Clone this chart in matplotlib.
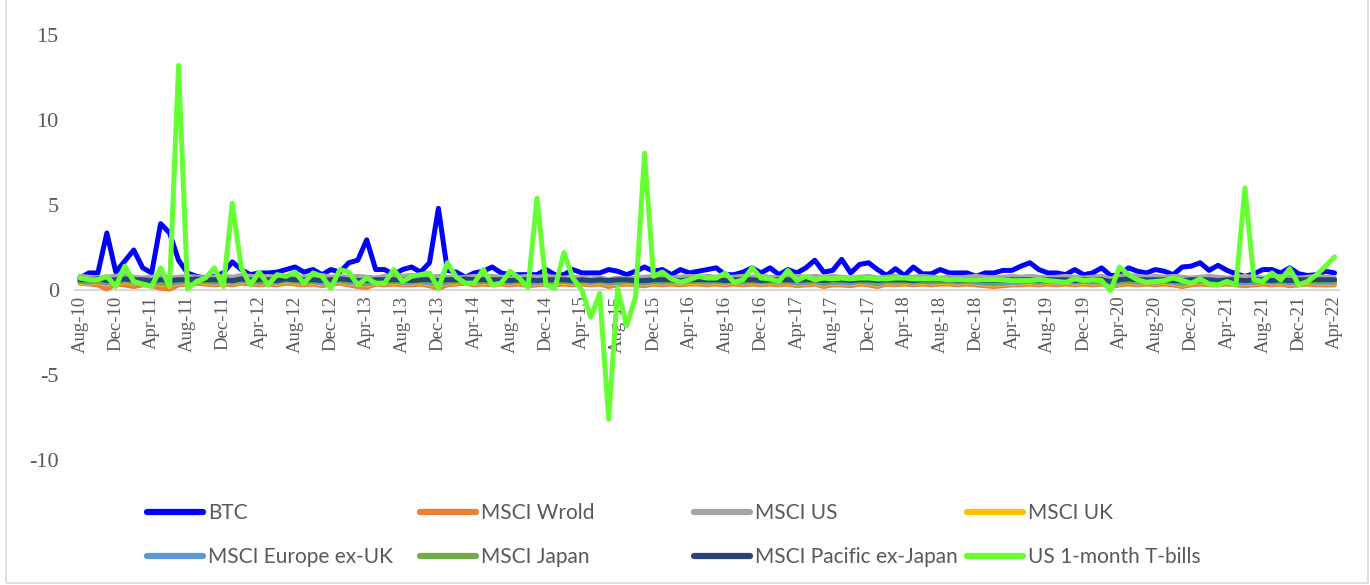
import matplotlib
matplotlib.use("Agg")
import matplotlib.pyplot as plt
import numpy as np
import pandas as pd
from matplotlib.patches import Rectangle

months = pd.date_range("2010-08-01", periods=141, freq="MS").strftime("%b-%y").tolist()

btc = [0.7,1.0,1.0,3.35,1.05,1.7,2.35,1.3,1.0,3.9,3.35,1.75,1.0,0.8,0.7,0.8,1.0,1.65,1.2,0.9,
       1.0,1.0,1.05,1.2,1.35,1.05,1.2,0.9,1.2,1.05,1.6,1.75,2.95,1.2,1.2,0.9,1.2,1.35,1.05,1.6,
       4.8,1.15,1.05,0.75,1.0,1.1,1.35,1.0,0.9,0.9,0.9,0.9,1.2,0.9,0.9,1.2,1.0,1.0,1.0,1.2,
       1.1,0.9,1.1,1.35,1.1,1.2,0.9,1.2,1.0,1.1,1.2,1.3,0.9,0.9,1.05,1.3,1.0,1.3,0.9,1.2,
       1.0,1.3,1.75,1.05,1.15,1.8,1.0,1.5,1.6,1.2,0.85,1.25,0.85,1.35,0.95,0.95,1.2,1.0,1.0,1.0,
       0.8,1.0,1.0,1.15,1.15,1.4,1.6,1.2,1.0,1.0,0.9,1.2,0.9,1.0,1.3,0.85,0.85,1.3,1.1,1.0,
       1.2,1.1,0.9,1.35,1.4,1.6,1.15,1.45,1.15,0.95,0.8,0.95,1.2,1.2,1.0,1.3,0.95,0.85,0.9,1.1,1.0]

msci_world = [0.4,0.35,0.3,0.05,0.35,0.3,0.2,0.3,0.25,0.1,0.05,0.3,0.35,0.4,0.35,0.3,0.35,0.3,0.4,0.35,
              0.3,0.35,0.3,0.4,0.35,0.3,0.35,0.25,0.35,0.4,0.3,0.2,0.15,0.35,0.3,0.35,0.3,0.3,0.35,0.25,
              0.1,0.3,0.35,0.4,0.3,0.35,0.3,0.35,0.3,0.35,0.25,0.3,0.35,0.3,0.35,0.3,0.35,0.3,0.35,0.2,
              0.3,0.35,0.3,0.25,0.35,0.3,0.35,0.3,0.35,0.35,0.3,0.35,0.3,0.35,0.3,0.35,0.3,0.35,0.3,0.35,
              0.25,0.3,0.35,0.2,0.3,0.3,0.25,0.35,0.3,0.2,0.35,0.3,0.35,0.3,0.35,0.3,0.35,0.35,0.3,0.35,
              0.3,0.25,0.2,0.25,0.3,0.3,0.35,0.3,0.35,0.3,0.35,0.3,0.35,0.3,0.35,0.2,0.3,0.35,0.3,0.35,
              0.3,0.35,0.3,0.2,0.3,0.35,0.3,0.3,0.35,0.3,0.25,0.3,0.35,0.3,0.35,0.25,0.3,0.35,0.3,0.3,0.3]

msci_us = [0.8,0.75,0.7,0.75,0.8,0.85,0.75,0.7,0.75,0.8,0.7,0.75,0.8,0.75,0.7,0.75,0.8,0.75,0.85,0.8,
           0.75,0.8,0.75,0.7,0.8,0.75,0.8,0.85,0.75,0.8,0.75,0.8,0.75,0.7,0.8,0.75,0.8,0.85,0.8,0.75,
           0.8,0.75,0.7,0.75,0.8,0.75,0.8,0.75,0.7,0.75,0.8,0.75,0.8,0.75,0.7,0.75,0.7,0.65,0.7,0.6,
           0.7,0.65,0.7,0.75,0.8,0.75,0.7,0.75,0.8,0.75,0.8,0.75,0.7,0.75,0.8,0.75,0.8,0.75,0.7,0.75,
           0.8,0.75,0.8,0.75,0.8,0.75,0.7,0.75,0.8,0.7,0.75,0.8,0.7,0.75,0.8,0.75,0.7,0.75,0.7,0.75,
           0.8,0.75,0.7,0.75,0.8,0.75,0.8,0.75,0.7,0.75,0.8,0.75,0.7,0.75,0.8,0.65,0.8,0.85,0.8,0.75,
           0.8,0.75,0.8,0.75,0.7,0.75,0.8,0.75,0.7,0.75,0.8,0.75,0.7,0.75,0.8,0.75,0.7,0.75,0.8,0.75,0.7]

msci_uk = [0.45,0.4,0.45,0.35,0.4,0.5,0.4,0.45,0.4,0.35,0.3,0.4,0.45,0.5,0.45,0.4,0.45,0.4,0.5,0.45,
           0.4,0.45,0.4,0.5,0.45,0.4,0.45,0.35,0.45,0.5,0.4,0.35,0.3,0.45,0.4,0.45,0.4,0.4,0.45,0.35,
           0.3,0.4,0.45,0.5,0.4,0.45,0.4,0.45,0.4,0.45,0.35,0.4,0.45,0.4,0.45,0.4,0.45,0.4,0.45,0.35,
           0.4,0.45,0.4,0.35,0.45,0.4,0.45,0.4,0.45,0.45,0.4,0.45,0.4,0.45,0.4,0.45,0.4,0.45,0.4,0.45,
           0.35,0.4,0.45,0.3,0.4,0.4,0.35,0.45,0.4,0.3,0.45,0.4,0.45,0.4,0.45,0.4,0.45,0.45,0.4,0.45,
           0.4,0.35,0.3,0.35,0.4,0.4,0.45,0.4,0.45,0.4,0.45,0.4,0.45,0.4,0.45,0.3,0.4,0.45,0.4,0.45,
           0.4,0.45,0.4,0.3,0.4,0.45,0.4,0.4,0.45,0.4,0.35,0.4,0.45,0.4,0.45,0.35,0.4,0.45,0.4,0.4,0.4]

msci_europe = [0.5,0.45,0.5,0.4,0.45,0.55,0.45,0.5,0.45,0.4,0.35,0.45,0.5,0.55,0.5,0.45,0.5,0.45,0.55,0.5,
               0.45,0.5,0.45,0.55,0.5,0.45,0.5,0.4,0.5,0.55,0.45,0.4,0.35,0.5,0.45,0.5,0.45,0.45,0.5,0.4,
               0.35,0.45,0.5,0.55,0.45,0.5,0.45,0.5,0.45,0.5,0.4,0.45,0.5,0.45,0.5,0.45,0.5,0.45,0.5,0.4,
               0.45,0.5,0.45,0.4,0.5,0.45,0.5,0.45,0.5,0.5,0.45,0.5,0.45,0.5,0.45,0.5,0.45,0.5,0.45,0.5,
               0.4,0.45,0.5,0.35,0.45,0.45,0.4,0.5,0.45,0.35,0.5,0.45,0.5,0.45,0.5,0.45,0.5,0.5,0.45,0.5,
               0.45,0.4,0.35,0.4,0.45,0.45,0.5,0.45,0.5,0.45,0.5,0.45,0.5,0.45,0.5,0.35,0.45,0.5,0.45,0.5,
               0.45,0.5,0.45,0.35,0.45,0.5,0.45,0.45,0.5,0.45,0.4,0.45,0.5,0.45,0.5,0.4,0.45,0.5,0.45,0.45,0.45]

msci_japan = [0.55,0.5,0.55,0.45,0.5,0.6,0.5,0.55,0.5,0.45,0.45,0.5,0.55,0.6,0.55,0.5,0.55,0.5,0.6,0.55,
              0.5,0.55,0.5,0.6,0.55,0.5,0.55,0.5,0.55,0.6,0.5,0.5,0.45,0.55,0.5,0.55,0.5,0.5,0.55,0.5,
              0.45,0.5,0.55,0.6,0.5,0.55,0.5,0.55,0.5,0.55,0.5,0.5,0.55,0.5,0.55,0.5,0.55,0.5,0.55,0.45,
              0.5,0.55,0.5,0.45,0.55,0.5,0.55,0.5,0.55,0.55,0.5,0.55,0.5,0.55,0.5,0.55,0.5,0.55,0.5,0.55,
              0.5,0.5,0.55,0.45,0.5,0.5,0.5,0.55,0.5,0.45,0.55,0.5,0.55,0.5,0.55,0.5,0.55,0.55,0.5,0.55,
              0.5,0.5,0.45,0.5,0.5,0.5,0.55,0.5,0.55,0.5,0.55,0.5,0.55,0.5,0.55,0.45,0.5,0.55,0.5,0.55,
              0.5,0.55,0.5,0.45,0.5,0.55,0.5,0.5,0.55,0.5,0.5,0.5,0.55,0.5,0.55,0.5,0.5,0.55,0.5,0.5,0.5]

msci_pacific = [0.6,0.6,0.65,0.55,0.6,0.65,0.6,0.6,0.55,0.6,0.55,0.6,0.6,0.65,0.6,0.6,0.6,0.55,0.65,0.6,
                0.6,0.6,0.55,0.65,0.6,0.6,0.6,0.55,0.6,0.65,0.6,0.55,0.55,0.6,0.6,0.6,0.6,0.55,0.6,0.6,
                0.55,0.6,0.6,0.65,0.6,0.6,0.6,0.6,0.55,0.6,0.6,0.55,0.6,0.6,0.6,0.55,0.6,0.55,0.6,0.55,
                0.6,0.6,0.55,0.55,0.6,0.6,0.6,0.55,0.6,0.6,0.6,0.6,0.55,0.6,0.6,0.6,0.55,0.6,0.6,0.6,
                0.55,0.6,0.6,0.55,0.6,0.6,0.55,0.6,0.6,0.55,0.6,0.6,0.6,0.55,0.6,0.6,0.6,0.6,0.55,0.6,
                0.6,0.55,0.55,0.6,0.6,0.6,0.6,0.55,0.6,0.6,0.6,0.55,0.6,0.6,0.6,0.5,0.6,0.65,0.6,0.6,
                0.6,0.6,0.55,0.55,0.6,0.6,0.6,0.55,0.6,0.6,0.55,0.6,0.6,0.55,0.6,0.55,0.6,0.6,0.6,0.6,0.6]

tbills = [0.7,0.6,0.6,0.8,0.2,1.4,0.5,0.35,0.2,1.3,0.2,13.2,0.05,0.5,0.7,1.3,0.2,5.1,1.3,0.3,
          1.05,0.3,0.9,0.8,1.05,0.4,1.0,0.8,0.1,1.2,1.05,0.3,0.7,0.4,0.4,1.2,0.5,0.8,0.9,1.0,
          0.1,1.6,0.75,0.4,0.4,1.2,0.3,0.4,1.1,0.7,0.15,5.4,0.3,0.1,2.2,0.7,0.0,-1.6,-0.2,-7.6,
          0.1,-2.1,-0.4,8.05,0.8,1.05,0.65,0.45,0.6,0.8,0.7,0.7,1.0,0.45,0.6,1.3,0.7,0.65,0.5,1.15,
          0.55,0.8,0.6,0.7,0.65,0.7,0.65,0.7,0.7,0.65,0.65,0.7,0.7,0.65,0.65,0.65,0.65,0.6,0.6,0.6,
          0.6,0.6,0.6,0.6,0.55,0.55,0.55,0.6,0.55,0.5,0.45,0.65,0.55,0.6,0.55,-0.05,1.35,0.9,0.6,0.45,
          0.5,0.55,0.7,0.55,0.4,0.65,0.35,0.3,0.5,0.3,6.0,0.6,0.5,1.0,0.6,1.25,0.3,0.5,0.9,1.4,1.95]

series_names = ["BTC", "MSCI Wrold", "MSCI US", "MSCI UK", "MSCI Europe ex-UK",
                "MSCI Japan", "MSCI Pacific ex-Japan", "US 1-month T-bills"]
series_data = [btc, msci_world, msci_us, msci_uk, msci_europe, msci_japan, msci_pacific, tbills]
colors = ["#0000FF", "#ED7D31", "#A5A5A5", "#FFC000", "#5B9BD5", "#70AD47", "#264478", "#66FF33"]

y_ticks = [15, 10, 5, 0, -5, -10]

fig = plt.figure(figsize=(13.7, 5.85), dpi=100)
ax = fig.add_axes([0.0551, 0.2137, 0.9223, 0.7266])

x = np.arange(len(months))
lines = []
for name, vals, c in zip(series_names, series_data, colors):
    ln, = ax.plot(x, vals, color=c, lw=3.6, solid_joinstyle="round", solid_capstyle="round", label=name)
    lines.append(ln)

for s in ["top", "right", "left"]:
    ax.spines[s].set_visible(False)
ax.spines["bottom"].set_position(("data", 0))
ax.spines["bottom"].set_color("#D9D9D9")
ax.spines["bottom"].set_linewidth(1.5)
ax.spines["bottom"].set_zorder(0.5)

ax.set_xlim(-0.5, len(months) - 0.5)
ax.set_ylim(-10, 15)
ax.tick_params(axis="both", length=0)
ax.tick_params(axis="y", pad=12)
ax.tick_params(axis="x", pad=4)
ax.set_yticks(y_ticks)
ax.set_yticklabels([str(v) for v in y_ticks], family="Liberation Serif", fontsize=16, color="#595959")
ax.set_xticks(x[::4])
ax.set_xticklabels(months[::4], rotation=90, family="Liberation Serif", fontsize=13.5,
                   color="#595959", va="top", ha="center")

# legend: 4 columns x 2 rows
col_x = [147 / 1370, 420 / 1370, 694 / 1370, 967 / 1370]
top_y = 1 - 503 / 585
for c in range(4):
    hs = [lines[c], lines[c + 4]]
    lg = fig.legend(hs, [h.get_label() for h in hs], loc="upper left",
                    bbox_to_anchor=(col_x[c], top_y), frameon=False,
                    prop={"family": "Lato", "size": 15}, labelcolor="#595959",
                    handlelength=2.7, handletextpad=0.25, borderpad=0, borderaxespad=0,
                    labelspacing=1.16)
    for lh in lg.get_lines():
        lh.set_linewidth(4.5)
        lh.set_solid_capstyle("round")

fig.patches.append(Rectangle((6 / 1370, 2 / 585), 1362 / 1370, 1.1, transform=fig.transFigure,
                             fill=False, edgecolor="#D9D9D9", lw=1.2))

fig.savefig("out.png", dpi=100)
